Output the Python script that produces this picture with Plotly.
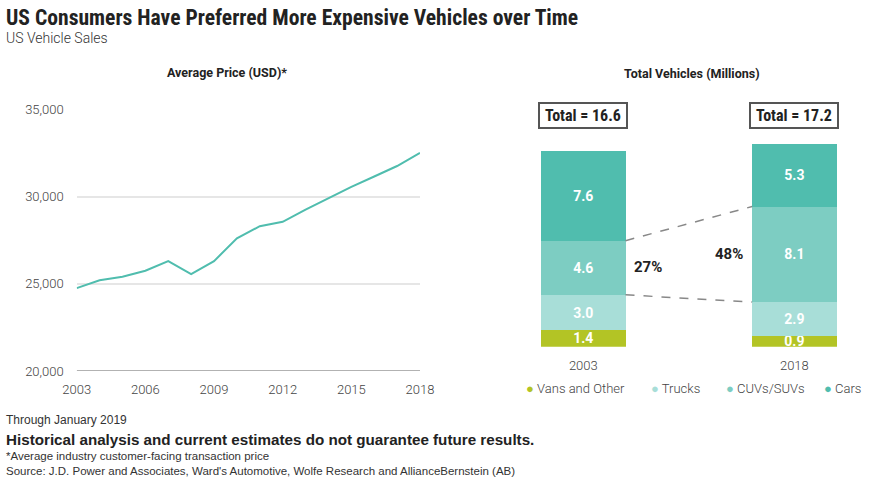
import plotly.graph_objects as go

# Average price line (USD)
years = list(range(2003, 2019))
avg_price = [24750, 25200, 25400, 25750, 26300, 25550, 26300, 27600,
             28300, 28550, 29250, 29900, 30550, 31150, 31750, 32500]

# Vehicle sales (millions), stacked bottom -> top
bar_years = ["2003", "2018"]
segments = ["Vans and Other", "Trucks", "CUVs/SUVs", "Cars"]
seg_values = {
    "Vans and Other": [1.4, 0.9],
    "Trucks": [3.0, 2.9],
    "CUVs/SUVs": [4.6, 8.1],
    "Cars": [7.6, 5.3],
}
totals = [16.6, 17.2]
shares = ["27%", "48%"]

colors = {
    "Vans and Other": "#b3c425",
    "Trucks": "#a8ded8",
    "CUVs/SUVs": "#7dcdc2",
    "Cars": "#50bdae",
}

COND = "Roboto Condensed, Roboto, sans-serif"
ROB = "Roboto, sans-serif"
HELV = "Liberation Sans, Arial, sans-serif"
W, H = 880, 479

def px_x(p):
    return p / W

def px_y(p):
    return (H - p) / H

fig = go.Figure()

fig.add_trace(go.Scatter(
    x=years, y=avg_price, mode="lines",
    line=dict(color="#50bdae", width=2),
    showlegend=False, xaxis="x", yaxis="y",
))

bw = 0.4
for s in segments:
    fig.add_trace(go.Bar(
        x=bar_years, y=seg_values[s], name=s,
        marker=dict(color=colors[s], line=dict(width=0)),
        width=bw,
        text=[f"{v:.1f}" for v in seg_values[s]],
        textposition="inside", insidetextanchor="middle",
        constraintext="none",
        textfont=dict(color="white", size=14, family=ROB, weight="bold"),
        showlegend=False, xaxis="x2", yaxis="y2",
    ))

# dashed connectors around the CUV/SUV band
lower = [seg_values["Vans and Other"][i] + seg_values["Trucks"][i] for i in range(2)]
upper = [lower[i] + seg_values["CUVs/SUVs"][i] for i in range(2)]
for ys in (lower, upper):
    fig.add_shape(type="line", xref="x2", yref="y2",
                  x0=0 + bw / 2, x1=1 - bw / 2, y0=ys[0], y1=ys[1],
                  line=dict(color="#888888", width=1.5, dash="dash"))

annotations = [
    dict(text="<b>US Consumers Have Preferred More Expensive Vehicles over Time</b>",
         x=px_x(4), y=px_y(17), xanchor="left", yanchor="middle",
         font=dict(size=21.6, color="#222222", family=COND)),
    dict(text="US Vehicle Sales", x=px_x(4), y=px_y(38), xanchor="left", yanchor="middle",
         font=dict(size=14, color="#333333", family=ROB, weight=300)),
    dict(text="<b>Average Price (USD)*</b>", x=px_x(227), y=px_y(72),
         xanchor="center", yanchor="middle",
         font=dict(size=12.5, color="#222222", family=ROB)),
    dict(text="<b>Total Vehicles (Millions)</b>", x=px_x(692), y=px_y(73),
         xanchor="center", yanchor="middle",
         font=dict(size=12.5, color="#222222", family=ROB)),
    dict(text="Through January 2019", x=px_x(4), y=px_y(420), xanchor="left", yanchor="middle",
         font=dict(size=12, color="#333333", family=HELV)),
    dict(text="<b>Historical analysis and current estimates do not guarantee future results.</b>",
         x=px_x(4), y=px_y(439), xanchor="left", yanchor="middle",
         font=dict(size=15.2, color="#222222", family=HELV)),
    dict(text="*Average industry customer-facing transaction price", x=px_x(4), y=px_y(456),
         xanchor="left", yanchor="middle",
         font=dict(size=11.5, color="#333333", family=HELV)),
    dict(text="Source: J.D. Power and Associates, Ward's Automotive, Wolfe Research and AllianceBernstein (AB)",
         x=px_x(4), y=px_y(471), xanchor="left", yanchor="middle",
         font=dict(size=11.5, color="#333333", family=HELV)),
]

# total boxes above each bar (category index on x2)
for i in range(len(bar_years)):
    annotations.append(dict(
        text=f"<b>Total = {totals[i]}</b>", x=i, xref="x2", y=px_y(116), yref="paper",
        xanchor="center", yanchor="middle",
        width=80, height=17, borderpad=3, bordercolor="#555555", borderwidth=2,
        font=dict(size=16, color="#222222", family=COND),
    ))

annotations.append(dict(text=f"<b>{shares[0]}</b>", x=px_x(648), y=px_y(267),
                        xanchor="center", yanchor="middle",
                        font=dict(size=15, color="#222222", family=ROB)))
annotations.append(dict(text=f"<b>{shares[1]}</b>", x=px_x(729), y=px_y(254),
                        xanchor="center", yanchor="middle",
                        font=dict(size=15, color="#222222", family=ROB)))

# legend drawn as text items with round markers
legend_x = [524, 649, 724, 822]
for s, lx in zip(segments, legend_x):
    annotations.append(dict(
        text=f"<span style='color:{colors[s]}'>●</span> {s}",
        x=px_x(lx), y=px_y(388), xanchor="left", yanchor="middle",
        font=dict(size=13, color="#444444", family=ROB, weight=300),
    ))

for a in annotations:
    a.setdefault("xref", "paper")
    a.setdefault("yref", "paper")
    a.setdefault("showarrow", False)

fig.update_layout(
    width=W, height=H,
    margin=dict(l=0, r=0, t=0, b=0, autoexpand=False),
    paper_bgcolor="white", plot_bgcolor="white",
    barmode="stack",
    showlegend=False,
    uniformtext=dict(minsize=14, mode="show"),
    font=dict(family=ROB, color="#444444"),
    annotations=annotations,
    xaxis=dict(domain=[px_x(76.7), px_x(420)], range=[2003, 2018],
               tickvals=[2003, 2006, 2009, 2012, 2015, 2018],
               showgrid=False, zeroline=False, showline=False, ticks="",
               automargin=False,
               tickfont=dict(size=13, color="#444444", weight=300), ticklabelstandoff=9),
    yaxis=dict(domain=[px_y(371), px_y(109.3)], range=[20000, 35000],
               tickvals=[20000, 25000, 30000, 35000], tickformat=",",
               showgrid=True, gridcolor="#e6e6e6", gridwidth=1.5,
               zeroline=False, showline=False, ticks="", automargin=False,
               tickfont=dict(size=13, color="#444444", weight=300), ticklabelstandoff=12),
    xaxis2=dict(domain=[px_x(520), px_x(860)], type="category", range=[-0.3, 1.311],
                showgrid=False, zeroline=False, showline=False, ticks="",
                automargin=False, ticklabelstandoff=9,
                tickfont=dict(size=13, color="#444444", weight=300), anchor="y2"),
    yaxis2=dict(domain=[px_y(346.7), px_y(111.1)], range=[0, 20],
                visible=False, anchor="x2", automargin=False),
)

fig.add_shape(type="line", xref="x", yref="y", x0=2003, x1=2018, y0=20000, y1=20000,
              line=dict(color="#999999", width=1.5), layer="below")

fig.write_html("out.html", config={"displayModeBar": False},
               post_script="document.body.style.margin='0px';")
